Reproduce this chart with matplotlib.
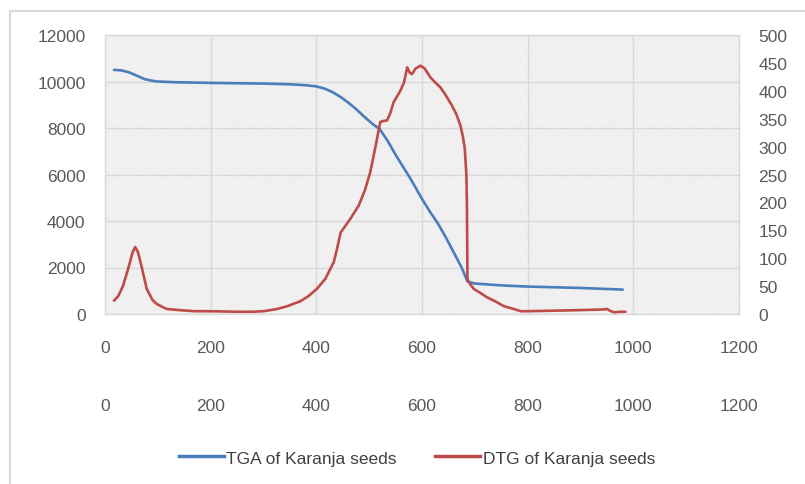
import matplotlib
matplotlib.use('Agg')
import matplotlib.pyplot as plt
from matplotlib.lines import Line2D

# temperature (x) and TGA / DTG readings
tga_x = [17, 30, 45, 60, 75, 90, 100, 130, 200, 300, 350, 380, 400, 415,
         430, 445, 460, 475, 490, 505, 520, 535, 550, 565, 580, 600, 615,
         630, 645, 660, 675, 686, 700, 750, 800, 900, 980]
tga_y = [10500, 10480, 10400, 10250, 10100, 10030, 10000, 9970, 9940, 9910,
         9880, 9840, 9790, 9700, 9550, 9350, 9100, 8820, 8500, 8200, 7950,
         7450, 6850, 6300, 5750, 4950, 4400, 3900, 3300, 2650, 2000, 1400,
         1310, 1230, 1180, 1120, 1050]

dtg_x = [17, 25, 34, 45, 52, 57, 62, 68, 79, 90, 98, 110, 117, 140, 170,
         200, 250, 280, 300, 326, 345, 370, 385, 401, 417, 433, 439, 446,
         455, 464, 480, 492, 502, 512, 521, 527, 534, 540, 546, 559, 566,
         572, 577, 581, 588, 597, 605, 616, 625, 635, 645, 657, 665, 673,
         678, 681, 684, 685, 686, 690, 698, 710, 723, 740, 755, 770, 787,
         800, 850, 900, 940, 951, 955, 964, 975, 985]
dtg_y = [24, 32, 50, 85, 110, 120, 112, 90, 45, 25, 18, 12, 9, 7, 5, 5, 4,
         4, 5, 9, 14, 23, 32, 45, 63, 93, 116, 146, 158, 170, 194, 222, 254,
         300, 344, 346, 347, 360, 379, 400, 415, 442, 432, 430, 440, 445,
         440, 424, 415, 406, 392, 373, 358, 337, 315, 296, 250, 200, 63, 55,
         45, 38, 30, 22, 14, 10, 5, 5, 6, 7, 8, 9, 6, 3, 4, 4]

x_ticks = [0, 200, 400, 600, 800, 1000, 1200]
left_ticks = [0, 2000, 4000, 6000, 8000, 10000, 12000]
right_ticks = [0, 50, 100, 150, 200, 250, 300, 350, 400, 450, 500]

TGA_LABEL = "TGA of Karanja seeds"
DTG_LABEL = "DTG of Karanja seeds"

BLUE = "#4a7ebb"
RED = "#be4b48"
GRID = "#d9d9d9"
TXT = "#595959"

plt.rcParams['font.family'] = ['Liberation Sans', 'DejaVu Sans']
plt.rcParams['hatch.linewidth'] = 0.5

W, H = 805, 485
fig = plt.figure(figsize=(W / 100, H / 100), dpi=100)
fig.patch.set_facecolor('white')

# plot area in pixels: left 105, right 739, top 36, bottom 315
ax = fig.add_axes([105 / W, 1 - 315 / H, (739 - 105) / W, (315 - 36) / H])
ax.patch.set_facecolor('white')
ax.patch.set_hatch('\\' * 14)
ax.patch.set_edgecolor('#dcdcdc')
ax.patch.set_linewidth(0)

ax.plot(tga_x, tga_y, color=BLUE, lw=1.9, solid_capstyle='round',
        solid_joinstyle='round')
ax.set_xlim(0, 1200)
ax.set_ylim(0, 12000)
ax.set_xticks(x_ticks)
ax.set_yticks(left_ticks)
ax.grid(True, color=GRID, lw=1.0)
ax.set_axisbelow(True)
for s in ax.spines.values():
    s.set_color(GRID)
    s.set_linewidth(1.0)
ax.tick_params(axis='both', length=0, labelsize=12.5, colors=TXT)
ax.tick_params(axis='x', pad=19)
ax.tick_params(axis='y', pad=14)

ax2 = ax.twinx()
ax2.plot(dtg_x, dtg_y, color=RED, lw=1.9, solid_capstyle='round',
         solid_joinstyle='round')
ax2.set_ylim(0, 500)
ax2.set_yticks(right_ticks)
for s in ax2.spines.values():
    s.set_visible(False)
ax2.tick_params(axis='y', length=0, labelsize=12.5, colors=TXT, pad=14)

# second x axis row below the first one
sec = ax.secondary_xaxis(-0.29)
sec.set_xticks(x_ticks)
sec.spines['bottom'].set_visible(False)
sec.tick_params(length=0, labelsize=12.5, colors=TXT, pad=2)

handles = [Line2D([], [], color=BLUE, lw=2.5),
           Line2D([], [], color=RED, lw=2.5)]
fig.legend(handles, [TGA_LABEL, DTG_LABEL], loc='center',
           bbox_to_anchor=(417 / W, 1 - 459 / H), ncol=2, frameon=False,
           fontsize=12.5, labelcolor='#404040', handlelength=2.6,
           handletextpad=0.15, columnspacing=2.2)

# outer chart frame (left and top edges visible)
fig.add_artist(Line2D([10 / W, 10 / W], [0, 1 - 12 / H], color=GRID, lw=1.5,
                      transform=fig.transFigure))
fig.add_artist(Line2D([10 / W, 1], [1 - 12 / H, 1 - 12 / H], color=GRID,
                      lw=1.5, transform=fig.transFigure))

fig.savefig('out.png', dpi=100)
